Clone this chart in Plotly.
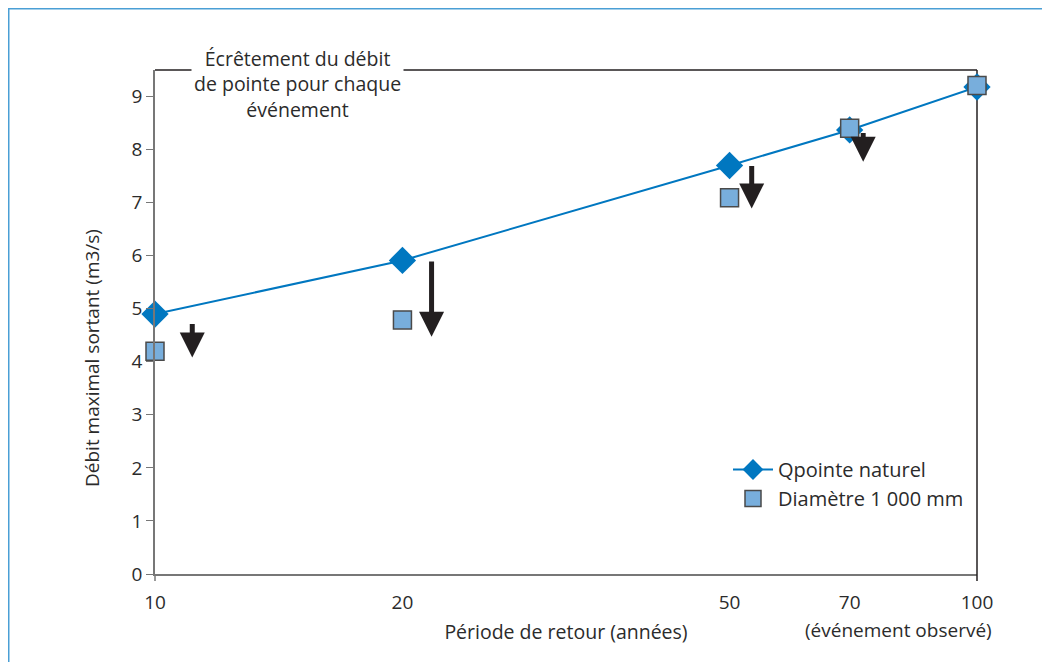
import numpy as np
import plotly.graph_objects as go

# ---- data ----
periods = [10, 20, 50, 70, 100]
q_naturel = [4.9, 5.91, 7.70, 8.37, 9.18]
q_diam1000 = [4.2, 4.79, 7.09, 8.40, 9.21]
tick_labels = ["10", "20", "50", "70", "100"]

# arrows: x position (years), top and tip (m3/s)
arrow_x = [11.1, 21.7, 53.2, 72.7]
arrow_top = [4.74, 5.92, 7.72, 8.34]
arrow_tip = [4.08, 4.47, 6.89, 7.77]

FONT = "Open Sans"
TXT = "#2b2b2b"
BLUE = "#0077c0"
LIGHT = "#78aedc"

# plot area in screenshot pixels (page has an 8px body offset)
PL, PR, PT, PB = 155, 977, 70, 574
PW, PH = PR - PL, PB - PT


def px(x):
    return (x - PL) / PW


def py(y):
    return (PB - y) / PH


fig = go.Figure()
fig.add_trace(go.Scatter(
    x=periods, y=q_naturel, name="Qpointe naturel",
    mode="lines+markers",
    line=dict(color=BLUE, width=2),
    marker=dict(symbol="diamond", size=21, color=BLUE, line=dict(width=0)),
    cliponaxis=False,
))
fig.add_trace(go.Scatter(
    x=periods, y=q_diam1000, name="Diamètre 1 000 mm",
    mode="markers",
    marker=dict(symbol="square", size=18, color=LIGHT, line=dict(color="#4a4a4a", width=1.5)),
    cliponaxis=False,
))

annotations = []
for xa, yt, yb in zip(arrow_x, arrow_top, arrow_tip):
    annotations.append(dict(
        x=np.log10(xa), y=yb, ax=np.log10(xa), ay=yt,
        xref="x", yref="y", axref="x", ayref="y",
        showarrow=True, arrowhead=2, arrowsize=1.0, arrowwidth=5,
        arrowcolor="#231f20", text="",
    ))

annotations.append(dict(
    x=px(297), y=py(42), xref="paper", yref="paper",
    xanchor="center", yanchor="top",
    text="Écrêtement du débit<br>de pointe pour chaque<br>événement",
    showarrow=False, align="center", bgcolor="white",
    font=dict(family=FONT, size=19.5, color=TXT),
    borderpad=2,
))
annotations.append(dict(
    x=px(898), y=py(630), xref="paper", yref="paper",
    xanchor="center", yanchor="middle",
    text="(événement observé)", showarrow=False,
    font=dict(family=FONT, size=19, color=TXT),
))
annotations.append(dict(
    x=px(92), y=py(358), xref="paper", yref="paper",
    xanchor="center", yanchor="middle", textangle=-90,
    text="Débit maximal sortant (m3/s)", showarrow=False,
    font=dict(family=FONT, size=19, color=TXT),
))

shapes = [
    dict(type="line", xref="paper", yref="paper", x0=0, x1=1, y0=1, y1=1,
         line=dict(color="#231f20", width=1.5), layer="below"),
    dict(type="line", xref="paper", yref="paper", x0=1, x1=1, y0=0, y1=1,
         line=dict(color="#231f20", width=1.5), layer="below"),
    dict(type="line", xref="paper", yref="paper", x0=0, x1=0, y0=0, y1=-7 / PH,
         line=dict(color="#777", width=1.5)),
    dict(type="line", xref="paper", yref="paper", x0=1, x1=1, y0=0, y1=-7 / PH,
         line=dict(color="#231f20", width=1.5)),
    dict(type="line", xref="paper", yref="paper", x0=px(8), x1=2,
         y0=py(8), y1=py(8), line=dict(color="#4a9fd5", width=3)),
    dict(type="line", xref="paper", yref="paper", x0=px(8), x1=px(8),
         y0=py(8), y1=-2, line=dict(color="#4a9fd5", width=3)),
]

fig.update_layout(
    width=1050, height=662,
    margin=dict(l=PL - 8, r=1050 - (PR - 8), t=PT - 8, b=662 - (PB - 8)),
    paper_bgcolor="white", plot_bgcolor="white",
    font=dict(family=FONT, size=19, color=TXT),
    showlegend=True,
    legend=dict(x=px(728), y=py(450), xanchor="left", yanchor="top",
                bgcolor="rgba(0,0,0,0)", font=dict(family=FONT, size=20, color=TXT),
                itemwidth=40, tracegroupgap=2),
    annotations=annotations,
    shapes=shapes,
    xaxis=dict(
        type="log", range=[1, 2],
        tickvals=periods, ticktext=tick_labels, ticks="",
        ticklabelstandoff=10,
        showgrid=False, zeroline=False,
        showline=True, linecolor="#777", linewidth=1.5,
        tickfont=dict(family=FONT, size=19, color=TXT),
        title=dict(text="Période de retour (années)", standoff=12,
                   font=dict(family=FONT, size=19.5, color=TXT)),
    ),
    yaxis=dict(
        range=[0, 9.5], dtick=1, ticks="outside", ticklen=7, tickcolor="#777",
        showgrid=False, zeroline=False,
        showline=True, linecolor="#777", linewidth=1.5,
        tickfont=dict(family=FONT, size=19, color=TXT),
    ),
)

fig.write_html("out.html")
